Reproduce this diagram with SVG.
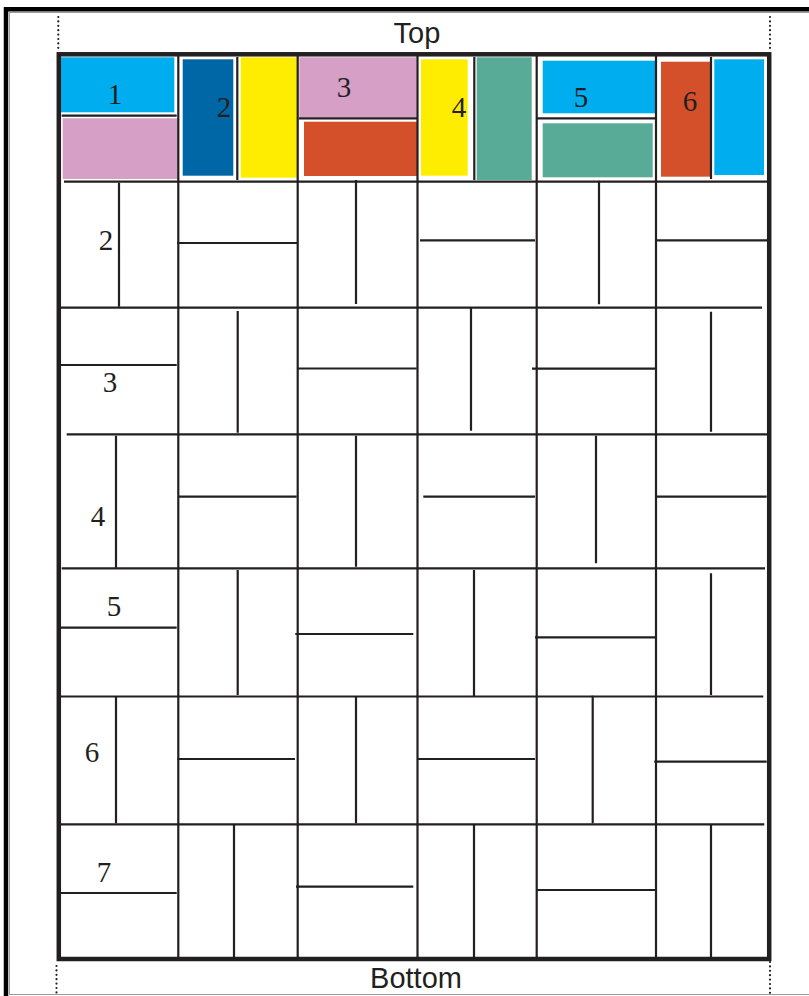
<svg xmlns="http://www.w3.org/2000/svg" width="809" height="996" viewBox="0 0 809 996">
<style>
.ln{stroke:#231f20;stroke-width:2.2;fill:none;stroke-linecap:butt}
.bd{stroke:#231f20;stroke-width:4.5;fill:none}
.dot{stroke:#231f20;stroke-width:2.2;stroke-dasharray:0 4.4;stroke-linecap:round;fill:none}
.num{font-family:"Liberation Serif","Times New Roman",serif;font-size:29px;fill:#231f20;text-anchor:middle}
.cap{font-family:"Liberation Sans",Arial,sans-serif;font-size:29px;fill:#231f20;text-anchor:middle}
.blue{fill:#00aeef}.dblue{fill:#0067a6}.yel{fill:#ffed00}.pink{fill:#d59fc6}.org{fill:#d4502b}.teal{fill:#58ab96}
</style>
<rect width="809" height="996" fill="#ffffff"/>
<g id="page">
<path d="M9,994.5 H809 M9.5,12 V995 M9,12.5 H809" stroke="#9a9a9a" stroke-width="1" fill="none"/>
<path d="M6,996 V9.2 H809" stroke="#000000" stroke-width="4.5" fill="none"/>
</g>
<g id="guides">
<path class="dot" d="M58.3,17 V50"/>
<path class="dot" d="M770,17 V50"/>
<path class="dot" d="M56.5,966 V996"/>
<path class="dot" d="M770,962 V996"/>
</g>
<g id="captions">
<text class="cap" x="417" y="43">Top</text>
<text class="cap" x="416" y="988">Bottom</text>
</g>
<g id="top-row">
<g id="t1"><rect class="blue" x="61" y="57.3" width="113.3" height="55"/><rect class="pink" x="62.7" y="118.3" width="115" height="60.7"/><text class="num" x="115" y="104">1</text></g>
<g id="t2"><rect class="dblue" x="182.7" y="59.3" width="50.6" height="116.4"/><rect class="yel" x="240.7" y="57.3" width="57" height="120.4"/><text class="num" x="224" y="117">2</text></g>
<g id="t3"><rect class="pink" x="299.3" y="57.3" width="117.4" height="60"/><rect class="org" x="304" y="121.7" width="113.3" height="54.3"/><text class="num" x="344" y="97">3</text></g>
<g id="t4"><rect class="yel" x="421" y="59.3" width="46.7" height="116.4"/><rect class="teal" x="476.7" y="57.3" width="55" height="122.7"/><text class="num" x="459" y="117">4</text></g>
<g id="t5"><rect class="blue" x="542.7" y="60.7" width="112.3" height="52.6"/><rect class="teal" x="542.7" y="123.3" width="110" height="54"/><text class="num" x="581" y="107">5</text></g>
<g id="t6"><rect class="org" x="661" y="61.7" width="49" height="115"/><rect class="blue" x="714.3" y="59.3" width="49.7" height="115.7"/><text class="num" x="690" y="111">6</text></g>
</g>
<g id="grid">
<path class="ln" d="M178.3,56 V958 M297.7,56 V958 M417.5,56 V958 M536.7,56 V958 M656,56 V958"/>
<path class="ln" d="M64,181.6 H768 M60,307.7 H762 M66.7,434.3 H768 M61.7,568.3 H765 M60,696.5 H763.3 M60,824.3 H764.3"/>
<path class="ln" d="M61.7,115.7 H176.7 M237.3,57 V180 M299,118.3 H417 M474.3,57 V180 M537,118.3 H656 M711,57 V179"/>
<path class="ln" d="M119,182.7 V306.7 M177.3,243 H297.3 M356,180 V304 M420,240.3 H535 M599,180.7 V304.3 M656,240.3 H767"/>
<path class="ln" d="M60,365 H176.7 M237.7,311 V432.7 M297,368.5 H416.7 M471,308 V430.7 M532,368.7 H655.7 M711,311.7 V431.7"/>
<path class="ln" d="M116,435.7 V567.7 M179,496.7 H296.7 M356,435.7 V566.7 M423.3,496.7 H535 M596,435.7 V563.3 M656,496.7 H766.7"/>
<path class="ln" d="M60.7,627.7 H176.7 M237.7,570 V695 M295.3,634 H413.3 M474,570 V696.7 M535,637.3 H656 M711,573.3 V695"/>
<path class="ln" d="M116,696 V823.3 M177.3,759 H295 M356,696 V823.3 M417.7,759 H535 M592.7,695.7 V823.3 M654.3,761.7 H766.7"/>
<path class="ln" d="M60.7,893 H176.7 M234,824 V957 M296,886.7 H413.3 M474,824 V957 M536,890 H655 M711,824 V957"/>
<rect class="bd" x="58.8" y="54.3" width="710.4" height="904.7"/>
</g>
<g id="row-labels">
<text class="num" x="106" y="250">2</text>
<text class="num" x="110" y="392">3</text>
<text class="num" x="98" y="526">4</text>
<text class="num" x="114" y="616">5</text>
<text class="num" x="92" y="762">6</text>
<text class="num" x="104" y="882">7</text>
</g>
</svg>
